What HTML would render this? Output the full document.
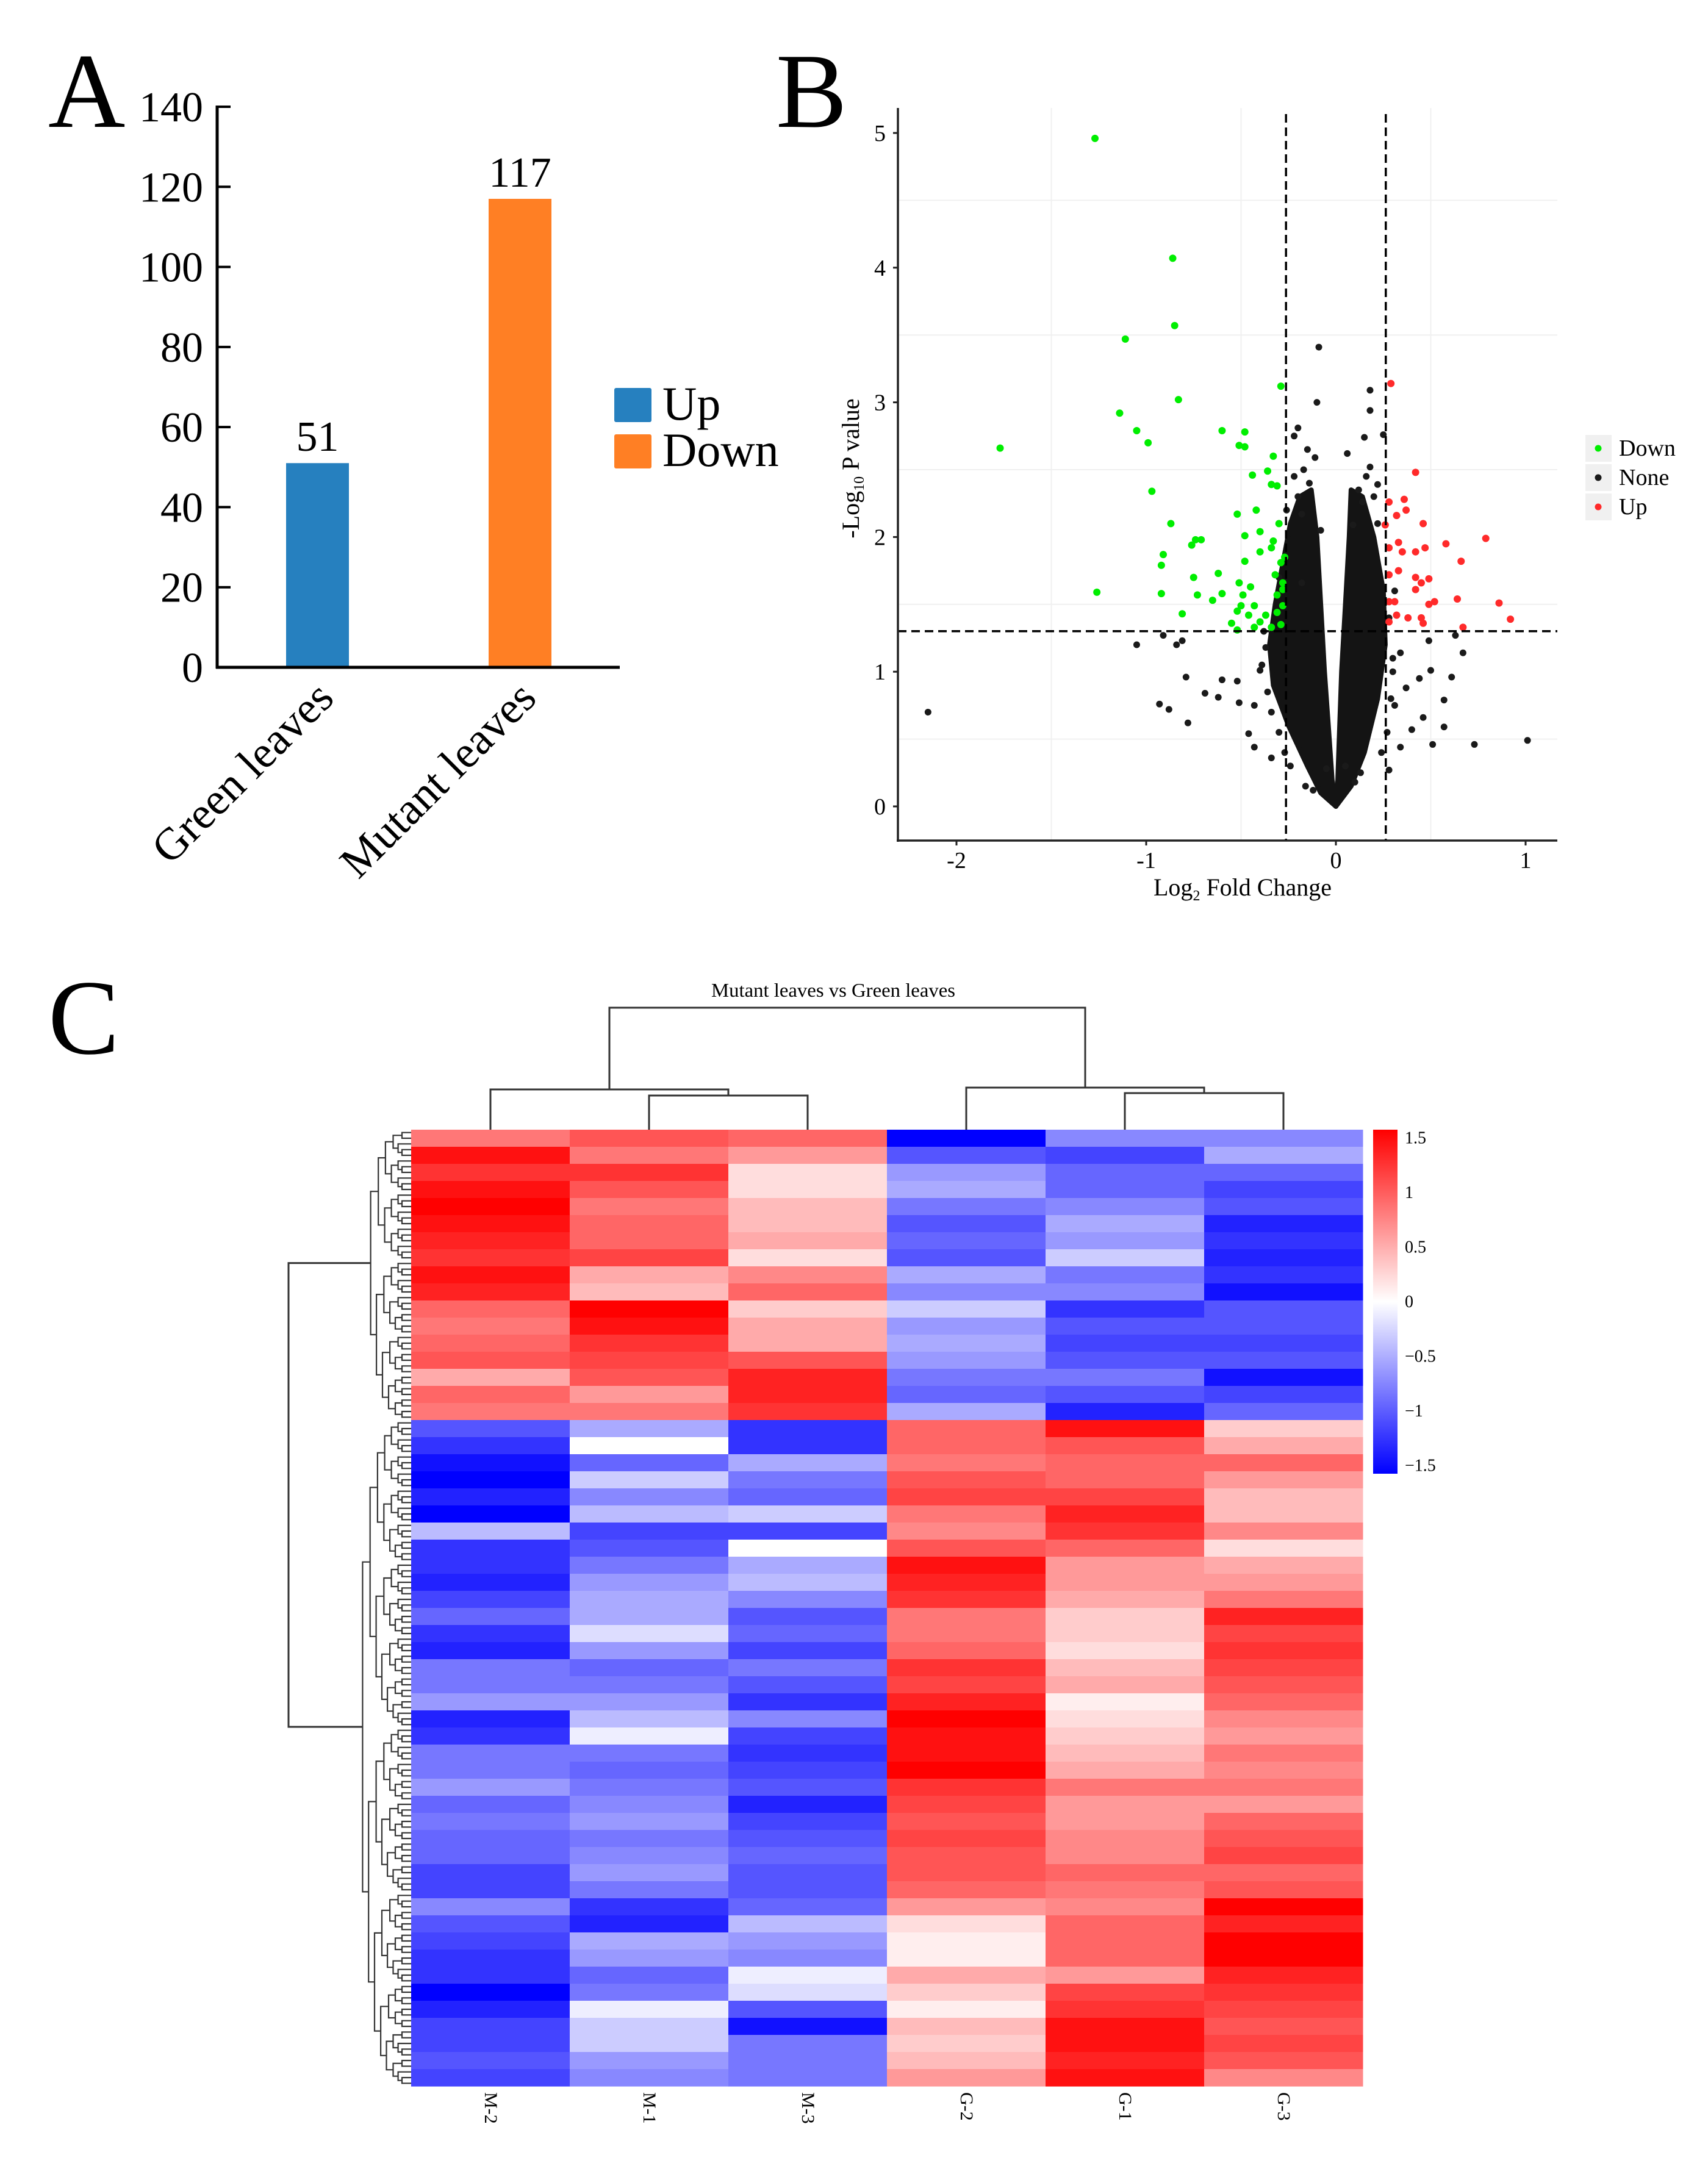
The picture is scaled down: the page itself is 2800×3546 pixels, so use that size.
<!DOCTYPE html>
<html><head><meta charset="utf-8"><style>
html,body{margin:0;padding:0;background:#fff;}
svg{display:block;}
text{font-family:"Liberation Serif",serif;}
</style></head>
<body>
<svg id="fig" xmlns="http://www.w3.org/2000/svg" width="2800" height="3546" viewBox="0 0 2800 3546">
<rect x="0" y="0" width="2800" height="3546" fill="#fff"/>
<text x="79" y="208" font-size="175">A</text>
<text x="1272" y="208" font-size="175">B</text>
<text x="79" y="1727" font-size="175">C</text>
<g id="barChart"></g>
<g id="volcano"></g>
<g id="heatmap"></g>
</svg>
<script>
const NS="http://www.w3.org/2000/svg";
function mk(parent,tag,attrs,txt){const e=document.createElementNS(NS,tag);for(const k in attrs)e.setAttribute(k,attrs[k]);if(txt!==undefined)e.textContent=txt;parent.appendChild(e);return e;}

/* ---------- Panel A data ---------- */
const barCategories=["Green leaves","Mutant leaves"];
const barValues=[51,117];
const barSeries=["Up","Down"];
const barColors=["#2680bf","#ff7f24"];
const barTicks=[0,20,40,60,80,100,120,140];

/* ---------- Panel B data ---------- */
const downX=[-1.27,-0.86,-0.85,-1.11,-0.83,-1.14,-0.29,-1.77,-1.05,-0.99,-0.60,-0.48,-0.51,-0.48,-0.33,-0.97,-0.36,-0.44,-0.34,-0.31,-0.87,-0.52,-0.42,-0.30,-0.48,-0.40,-0.74,-0.71,-0.76,-0.91,-0.33,-0.34,-0.40,-0.48,-0.92,-0.62,-0.32,-0.29,-0.75,-0.51,-0.45,-0.92,-1.26,-0.73,-0.60,-0.65,-0.49,-0.31,-0.28,-0.50,-0.43,-0.81,-0.52,-0.46,-0.37,-0.31,-0.55,-0.40,-0.34,-0.29,-0.43,-0.52,-0.28,-0.28,-0.27];
const downY=[4.96,4.07,3.57,3.47,3.02,2.92,3.12,2.66,2.79,2.70,2.79,2.78,2.68,2.67,2.60,2.34,2.49,2.46,2.39,2.38,2.10,2.17,2.20,2.10,2.01,2.04,1.98,1.98,1.94,1.87,1.97,1.92,1.89,1.82,1.79,1.73,1.72,1.81,1.70,1.66,1.63,1.58,1.59,1.57,1.58,1.53,1.57,1.57,1.61,1.49,1.49,1.43,1.45,1.42,1.42,1.44,1.36,1.37,1.33,1.35,1.33,1.31,1.49,1.66,1.85];
const upX=[0.29,0.42,0.36,0.28,0.37,0.32,0.26,0.46,0.79,0.28,0.33,0.35,0.42,0.47,0.58,0.66,0.28,0.33,0.42,0.49,0.45,0.42,0.64,0.52,0.49,0.86,0.28,0.31,0.32,0.38,0.45,0.46,0.28,0.92,0.67];
const upY=[3.14,2.48,2.28,2.26,2.20,2.16,2.09,2.10,1.99,1.92,1.96,1.89,1.89,1.92,1.95,1.82,1.72,1.75,1.70,1.69,1.66,1.61,1.54,1.52,1.50,1.51,1.52,1.52,1.42,1.40,1.40,1.36,1.37,1.39,1.33];
const noneX=[-2.15,-0.09,-0.10,0.18,0.18,0.15,0.25,0.06,-0.20,-0.22,-0.15,-0.11,-1.05,-0.91,-0.84,-0.81,-0.79,-0.69,-0.60,-0.52,-0.93,-0.88,-0.78,-0.62,-0.51,-0.46,-0.43,1.01,0.73,0.51,0.57,0.61,0.67,0.63,0.50,0.44,0.46,0.40,0.34,0.49,0.57,-0.37,-0.40,-0.43,-0.34,0.34,0.37,0.31,0.28,-0.18,0.09,0.14,-0.18,-0.08,0.22,0.18,
-0.38,-0.36,-0.39,-0.30,-0.27,-0.24,-0.20,-0.26,-0.22,-0.17,-0.14,0.28,0.30,0.29,0.27,0.24,0.22,0.20,0.12,0.16,-0.16,-0.12,0.10,0.13,0.05,-0.05,-0.30,0.31,-0.34,0.30];
const noneY=[0.70,3.41,3.00,3.09,2.94,2.74,2.76,2.62,2.81,2.75,2.65,2.59,1.20,1.27,1.20,1.23,0.96,0.84,0.94,0.93,0.76,0.72,0.62,0.81,0.77,0.54,0.44,0.49,0.46,0.46,0.59,0.96,1.14,1.27,1.01,0.95,0.66,0.57,0.44,1.23,0.79,1.18,1.01,0.75,0.36,1.14,0.88,0.75,0.27,1.66,2.09,2.26,2.17,2.05,2.39,2.52,
1.30,0.85,1.05,0.55,0.40,0.30,2.30,2.20,2.45,2.50,2.40,1.40,1.10,0.80,0.55,0.40,2.10,2.30,2.35,2.45,0.15,0.12,0.18,0.25,0.30,0.28,1.70,1.60,0.70,1.00];
/* dense "None" cloud envelopes (data units) */
const leftArmX=[0,-0.08,-0.15,-0.25,-0.33,-0.35,-0.32,-0.28,-0.24,-0.19,-0.13,-0.10,-0.08,-0.06,-0.04,-0.02];
const leftArmY=[0,0.10,0.30,0.60,0.90,1.20,1.50,1.80,2.10,2.30,2.35,2.00,1.50,1.00,0.60,0.20];
const rightArmX=[0,0.08,0.15,0.22,0.26,0.25,0.20,0.14,0.08,0.07,0.05,0.03,0.02,0.01];
const rightArmY=[0,0.15,0.40,0.80,1.20,1.60,2.00,2.30,2.35,2.00,1.50,1.00,0.60,0.20];
const volXTicks=[-2,-1,0,1];
const volYTicks=[0,1,2,3,4,5];
const foldThreshold=0.263;
const pThreshold=1.301;

/* ---------- Panel C data (each value = 3 consecutive genes) ---------- */
const sampleNames=["M-2","M-1","M-3","G-2","G-1","G-3"];
const colM2=[0.8,1.4,1.2,1.4,1.5,1.4,1.3,1.2,1.4,1.3,0.9,0.8,0.9,1.0,0.5,0.9,0.8,
-1.0,-1.2,-1.4,-1.5,-1.3,-1.5,-0.4,-1.2,-1.2,-1.3,-1.1,
-0.9,-1.2,-1.3,-0.8,-0.8,-0.6,-1.3,-1.2,-0.8,-0.8,-0.6,-0.9,-0.8,-0.9,-0.9,-1.1,-1.1,-0.7,-1.0,-1.1,-1.2,-1.2,-1.5,-1.3,-1.1,-1.1,-1.0,-1.1];
const colM1=[1.0,0.8,1.2,1.0,0.8,0.9,0.9,1.1,0.5,0.4,1.5,1.4,1.2,1.1,1.0,0.6,0.8,
-0.5,0.0,-0.9,-0.3,-0.7,-0.4,-1.1,-1.0,-0.8,-0.6,-0.5,
-0.5,-0.2,-0.6,-0.9,-0.8,-0.6,-0.4,-0.1,-0.8,-0.9,-0.8,-0.7,-0.6,-0.8,-0.7,-0.6,-0.8,-1.2,-1.3,-0.5,-0.6,-0.9,-0.8,-0.1,-0.3,-0.3,-0.6,-0.7];
const colM3=[0.9,0.6,0.2,0.2,0.4,0.4,0.5,0.2,0.7,0.9,0.3,0.5,0.5,1.0,1.3,1.3,1.2,
-1.2,-1.2,-0.5,-0.8,-0.9,-0.3,-1.1,0.0,-0.5,-0.4,-0.7,
-1.0,-0.9,-1.1,-0.8,-1.0,-1.2,-0.7,-1.1,-1.2,-1.1,-1.0,-1.3,-1.1,-1.0,-0.9,-1.0,-1.0,-0.9,-0.4,-0.6,-0.7,-0.1,-0.2,-1.0,-1.4,-0.8,-0.8,-0.8];
const colG2=[-1.5,-1.0,-0.6,-0.5,-0.8,-1.0,-0.9,-1.0,-0.5,-0.7,-0.3,-0.6,-0.5,-0.6,-0.8,-0.9,-0.5,
0.9,0.9,0.8,1.0,1.1,0.8,0.7,1.0,1.4,1.3,1.2,
0.8,0.8,0.9,1.2,1.1,1.3,1.5,1.4,1.4,1.5,1.2,1.1,1.0,1.1,1.0,1.0,0.9,0.6,0.2,0.1,0.1,0.5,0.3,0.1,0.4,0.3,0.4,0.6];
const colG1=[-0.7,-1.1,-0.9,-0.9,-0.7,-0.5,-0.6,-0.3,-0.8,-0.7,-1.2,-1.0,-1.1,-1.0,-0.8,-1.0,-1.3,
1.4,1.0,0.9,0.9,1.1,1.3,1.2,0.9,0.6,0.6,0.5,
0.3,0.3,0.2,0.4,0.5,0.1,0.2,0.3,0.4,0.5,0.8,0.6,0.6,0.7,0.7,0.9,0.8,0.7,0.9,0.9,0.9,0.6,1.1,1.2,1.4,1.4,1.3,1.4];
const colG3=[-0.7,-0.5,-0.9,-1.1,-1.0,-1.3,-1.2,-1.3,-1.2,-1.4,-1.0,-1.0,-1.1,-1.0,-1.4,-1.1,-0.9,
0.3,0.5,0.9,0.6,0.4,0.4,0.7,0.2,0.5,0.6,0.8,
1.3,1.1,1.2,1.1,1.0,0.9,0.7,0.6,0.8,0.7,0.8,0.6,0.9,1.0,1.1,0.9,1.0,1.5,1.3,1.5,1.5,1.3,1.2,1.1,1.0,1.1,1.0,0.7];
const colorbarTicks=[1.5,1,0.5,0,-0.5,-1,-1.5];
const colorbarLabels=["1.5","1","0.5","0","\u22120.5","\u22121","\u22121.5"];
const clusterSizes=[51,117];

/* ================= Panel A ================= */
(function(){
const g=document.getElementById('barChart');
const x0=356,x1=1016,yb=1094,yt=175,maxV=140;
const Y=v=>yb-(v/maxV)*(yb-yt);
const barW=103;
const bx=i=>469+i*332;
barTicks.forEach(t=>{
  const tk=mk(g,'line',{x1:x0,x2:x0+22,y1:Y(t),y2:Y(t),stroke:'#000','stroke-width':4});
  
  
  const lb=mk(g,'text',{x:333,y:Y(t)+24,'font-size':70,'text-anchor':'end'},String(t));
  
  
});
barValues.forEach((v,i)=>{
  const r=mk(g,'rect',{x:bx(i),y:Y(v),width:barW,height:yb-Y(v),fill:barColors[i]});
  
  
  const t=mk(g,'text',{x:bx(i)+barW/2,y:Y(v)-20,'font-size':70,'text-anchor':'middle'},String(v));
  
  
  const ex=bx(i)+barW/2+30, ey=1148;
  const c=mk(g,'text',{x:ex,y:ey,'font-size':74,'text-anchor':'end',transform:`rotate(-45 ${ex} ${ey})`},barCategories[i]);
  
  
});
const ya=mk(g,'line',{x1:x0,x2:x0,y1:yt-2,y2:yb+2,stroke:'#000','stroke-width':5});


const xa=mk(g,'line',{x1:x0-2,x2:x1,y1:yb,y2:yb,stroke:'#000','stroke-width':5});


barSeries.forEach((s,i)=>{
  const ly=636+i*76;
  const r=mk(g,'rect',{x:1007,y:ly,width:61,height:56,fill:barColors[i],rx:3});
  
  
  const t=mk(g,'text',{x:1086,y:ly+52,'font-size':78},s);
  
  
});
})();

/* ================= Panel B ================= */
(function(){
const g=document.getElementById('volcano');
const X=v=>2190+v*311, Y=v=>1322-v*220.8;
const L=1472,R=2553,T=177,B=1378;
[-1.5,-0.5,0.5].forEach(v=>{const l=mk(g,'line',{x1:X(v),x2:X(v),y1:T,y2:B,stroke:'#f0f0f0','stroke-width':2});
 
 });
[0.5,1.5,2.5,3.5,4.5].forEach(v=>{const l=mk(g,'line',{x1:L,x2:R,y1:Y(v),y2:Y(v),stroke:'#f0f0f0','stroke-width':2});
 
 });
const armPts=(xs,ys)=>xs.map((x,i)=>X(x).toFixed(1)+','+Y(ys[i]).toFixed(1)).join(' ');
const la=mk(g,'polygon',{points:armPts(leftArmX,leftArmY),fill:'#141414',stroke:'#141414','stroke-width':8,'stroke-linejoin':'round'});


const ra=mk(g,'polygon',{points:armPts(rightArmX,rightArmY),fill:'#141414',stroke:'#141414','stroke-width':8,'stroke-linejoin':'round'});


noneX.forEach((x,i)=>{const c=mk(g,'circle',{cx:X(x),cy:Y(noneY[i]),r:5.5,fill:'#1a1a1a'});
 
 });
downX.forEach((x,i)=>{const c=mk(g,'circle',{cx:X(x),cy:Y(downY[i]),r:6,fill:'#00ee00'});
 
 });
upX.forEach((x,i)=>{const c=mk(g,'circle',{cx:X(x),cy:Y(upY[i]),r:6,fill:'#ff2a2a'});
 
 });
[-foldThreshold,foldThreshold].forEach(v=>{const l=mk(g,'line',{x1:X(v),x2:X(v),y1:T+10,y2:B,stroke:'#000','stroke-width':3.5,'stroke-dasharray':'14 8'});
 
 });
const hl=mk(g,'line',{x1:L,x2:R,y1:Y(pThreshold),y2:Y(pThreshold),stroke:'#000','stroke-width':3.5,'stroke-dasharray':'14 8'});


const ya=mk(g,'line',{x1:L,x2:L,y1:T,y2:B+2,stroke:'#222','stroke-width':3.5});


const xa=mk(g,'line',{x1:L-2,x2:R,y1:B,y2:B,stroke:'#222','stroke-width':3.5});


volXTicks.forEach(t=>{
 const tk=mk(g,'line',{x1:X(t),x2:X(t),y1:B,y2:B+8,stroke:'#222','stroke-width':3});
 
 
 const lb=mk(g,'text',{x:X(t),y:B+45,'font-size':38,'text-anchor':'middle'},t<0?'-'+Math.abs(t):String(t));
 
 
});
volYTicks.forEach(t=>{
 const tk=mk(g,'line',{x1:L-8,x2:L,y1:Y(t),y2:Y(t),stroke:'#222','stroke-width':3});
 
 
 const lb=mk(g,'text',{x:1452,y:Y(t)+13,'font-size':38,'text-anchor':'end'},String(t));
 
 
});
const xt=mk(g,'text',{x:2037,y:1468,'font-size':40,'text-anchor':'middle'});


xt.innerHTML='Log<tspan font-size="24" dy="8">2</tspan><tspan dy="-8"> Fold Change</tspan>';
const yt=mk(g,'text',{x:1408,y:768,'font-size':40,'text-anchor':'middle',transform:'rotate(-90 1408 768)'});


yt.innerHTML='-Log<tspan font-size="24" dy="8">10</tspan><tspan dy="-8"> P value</tspan>';
const legItems=[['Down','#00ee00'],['None','#1a1a1a'],['Up','#ff2a2a']];
legItems.forEach((it,i)=>{
 const y=713+i*48;
 const bx=mk(g,'rect',{x:2599,y:y,width:43,height:44,fill:'#f0f0f0'});
 
 
 const c=mk(g,'circle',{cx:2620,cy:y+22,r:5.5,fill:it[1]});
 
 
 const t=mk(g,'text',{x:2654,y:y+34,'font-size':38},it[0]);
 
 
});
})();

/* ================= Panel C ================= */
(function(){
const g=document.getElementById('heatmap');
const cols=[colM2,colM1,colM3,colG2,colG1,colG3];
const x0=674,colW=260,y0=1852,nRows=clusterSizes[0]+clusterSizes[1],rowH=(3420-1852)/nRows,grp=3;
function col(v){let t=Math.max(-1,Math.min(1,v/1.5));
 if(t>=0){const c=Math.round(255*(1-t));return `rgb(255,${c},${c})`;}
 const c=Math.round(255*(1+t));return `rgb(${c},${c},255)`;}
cols.forEach((arr,ci)=>{
 arr.forEach((v,k)=>{
  const r=mk(g,'rect',{x:x0+ci*colW,y:(y0+k*grp*rowH).toFixed(2),width:colW+0.5,height:(grp*rowH+0.6).toFixed(2),fill:col(v)});
  
  
 });
 const cx=x0+ci*colW+colW/2;
 const t=mk(g,'text',{x:cx-9,y:3430,'font-size':30,transform:`rotate(90 ${cx-9} 3430)`},sampleNames[ci]);
 
 
});
const title=mk(g,'text',{x:1366,y:1634,'font-size':32,'text-anchor':'middle',textLength:400,lengthAdjust:'spacingAndGlyphs'},'Mutant leaves vs Green leaves');


const cc=i=>x0+colW*(i+0.5);
const st={stroke:'#333','stroke-width':3,fill:'none'};
function uLink(xa,ya,xb,yb,yj,name){const p=mk(g,'path',Object.assign({d:`M${xa},${ya}V${yj}H${xb}V${yb}`},st));
 
 }
uLink(cc(1),y0,cc(2),y0,1796,'col-dendro-link');
uLink(cc(0),y0,(cc(1)+cc(2))/2,1796,1786,'col-dendro-link');
uLink(cc(4),y0,cc(5),y0,1792,'col-dendro-link');
uLink(cc(3),y0,(cc(4)+cc(5))/2,1792,1783,'col-dendro-link');
uLink((cc(0)+(cc(1)+cc(2))/2)/2,1786,(cc(3)+(cc(4)+cc(5))/2)/2,1783,1652,'col-dendro-root');
function build(start,n){
 if(n===1)return {y:y0+(start+0.5)*rowH,x:x0};
 const a=Math.max(1,Math.round(n*0.46));
 const A=build(start,a),Bn=build(start+a,n-a);
 const x=x0-11*Math.log2(n)-4;
 const p=mk(g,'path',Object.assign({d:`M${A.x},${A.y.toFixed(1)}H${x.toFixed(1)}V${Bn.y.toFixed(1)}H${Bn.x}`},st,{'stroke-width':2.2}));
 
 
 return {y:(A.y+Bn.y)/2,x:x};
}
const top=build(0,clusterSizes[0]);
const bot=build(clusterSizes[0],clusterSizes[1]);
const rp=mk(g,'path',Object.assign({d:`M${top.x.toFixed(1)},${top.y.toFixed(1)}H473V${bot.y.toFixed(1)}H${bot.x.toFixed(1)}`},st));


const defs=mk(g,'defs',{});
const lg=mk(defs,'linearGradient',{id:'cbg',x1:0,y1:0,x2:0,y2:1});
mk(lg,'stop',{offset:'0','stop-color':'#ff0000'});
mk(lg,'stop',{offset:'0.5','stop-color':'#ffffff'});
mk(lg,'stop',{offset:'1','stop-color':'#0000ff'});
const cb=mk(g,'rect',{x:2251,y:1852,width:40,height:564,fill:'url(#cbg)'});


const CY=v=>2133-v*179;
colorbarTicks.forEach((v,i)=>{
 const t=mk(g,'text',{x:2303,y:CY(v)+10,'font-size':28,'font-family':'"Liberation Sans",sans-serif'},colorbarLabels[i]);
 
 
});
})();
</script>
</body></html>
